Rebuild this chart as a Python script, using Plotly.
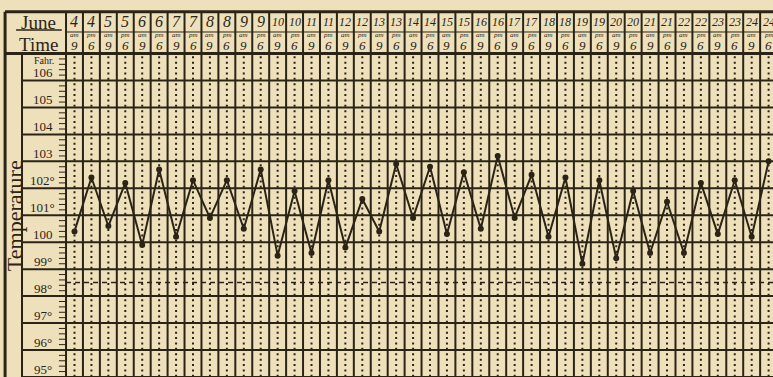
import plotly.graph_objects as go

# chart data
dates = [4, 4, 5, 5, 6, 6, 7, 7, 8, 8, 9, 9, 10, 10, 11, 11, 12, 12, 13, 13, 14,
         14, 15, 15, 16, 16, 17, 17, 18, 18, 19, 19, 20, 20, 21, 21, 22, 22, 23, 23, 24, 24]
periods = ["am", "pm"] * 21
hours = ["9", "6"] * 21
temps = [100.4, 102.4, 100.6, 102.2, 99.9, 102.7, 100.2, 102.3, 100.9, 102.3,
         100.5, 102.7, 99.5, 101.9, 99.6, 102.3, 99.8, 101.6, 100.4, 102.9,
         100.9, 102.8, 100.3, 102.6, 100.5, 103.2, 100.9, 102.5, 100.2, 102.4,
         99.2, 102.3, 99.4, 101.9, 99.6, 101.5, 99.6, 102.2, 100.3, 102.3,
         100.2, 103.0]
degree_ticks = [95, 96, 97, 98, 99, 100, 101, 102, 103, 104, 105, 106]
degree_labels = ["95°", "96°", "97°", "98°", "99°", "100", "101°", "102°",
                 "103", "104", "105", "106"]
normal_temp = 98.5

PAPER = "#eee0bb"
INK = "#2b2416"
FONT = "Liberation Serif"

n = len(temps)
cols = list(range(n))

X_MIN, X_MAX = -4.40, 41.26
Y_MIN, Y_MAX = 94.998, 108.987
TOP = 108.55       # top border of the sheet
GRID_TOP = 107.0   # top of the temperature grid
HEAD_MID = 107.8   # divider between date row and time row
X_OUTER = -4.10    # outer left border
X_INNER = -3.10    # line right of "Temperature"
X_LABEL = -1.92
X_LEFT = -0.5

fig = go.Figure()

shapes = []


def line(x0, y0, x1, y1, width=2, dash=None, color=INK):
    ln = dict(color=color, width=width)
    if dash:
        ln["dash"] = dash
    shapes.append(dict(type="line", xref="x", yref="y", x0=x0, y0=y0,
                       x1=x1, y1=y1, line=ln, layer="below"))


# borders
line(X_OUTER, TOP, X_MAX, TOP, width=3)
line(X_OUTER, GRID_TOP, X_MAX, GRID_TOP, width=3)
line(X_OUTER, TOP, X_OUTER, Y_MIN, width=3)
line(X_INNER, GRID_TOP, X_INNER, Y_MIN, width=2)
line(X_LEFT, HEAD_MID, X_MAX, HEAD_MID, width=1)

# column lines and dotted centre lines
for k in range(n + 1):
    line(k - 0.5, TOP, k - 0.5, Y_MIN, width=2)
for c in cols:
    line(c, GRID_TOP - 0.1, c, Y_MIN, width=2, dash="2px,3.4px")

# degree lines
for d in degree_ticks:
    line(X_INNER, d, X_MAX, d, width=2)

# ruler ticks every 0.2 degree
v = degree_ticks[0]
while v < GRID_TOP - 0.05:
    line(-0.92, v, X_LEFT, v, width=1)
    v = round(v + 0.2, 1)

# normal temperature dashes
line(X_LEFT, normal_temp, X_MAX, normal_temp, width=1.5, dash="5px,4px")

# underline of "June"
line(-3.45, 107.87, -0.75, 107.87, width=1.5)

annotations = []


def text(x, y, s, size, **kw):
    annotations.append(dict(x=x, y=y, xref="x", yref="y", text=s, showarrow=False,
                            font=dict(family=FONT, size=size, color=INK), **kw))


text(X_LABEL - 0.2, 108.17, "June", 19)
text(X_LABEL - 0.2, 107.34, "Time", 19)
text(X_LABEL + 0.1, 106.75, "Fahr.", 10)
for d, lab in zip(degree_ticks, degree_labels):
    text(X_LABEL + 0.05, d + 0.28, lab, 13)
text(-3.58, 101.0, "Temperature", 22, textangle=-90)

for c, d, p, h in zip(cols, dates, periods, hours):
    text(c, 108.18, "<i>%d</i>" % d, 16 if d < 10 else 12)
    text(c, 107.68, "<i>%s</i>" % p, 7)
    text(c, 107.30, "<i>%s</i>" % h, 13)

fig.add_trace(go.Scatter(
    x=cols, y=temps, mode="lines+markers",
    line=dict(color=INK, width=2),
    marker=dict(color=INK, size=6),
    hoverinfo="skip", showlegend=False,
))

fig.update_layout(
    width=773, height=377,
    margin=dict(l=0, r=0, t=0, b=0, pad=0),
    paper_bgcolor=PAPER, plot_bgcolor=PAPER,
    shapes=shapes, annotations=annotations,
    xaxis=dict(range=[X_MIN, X_MAX], visible=False, fixedrange=True),
    yaxis=dict(range=[Y_MIN, Y_MAX], visible=False, fixedrange=True),
)

# drop the page's default body margin so the sheet fills the window
fig.write_html(
    "out.html",
    config={"displayModeBar": False},
    post_script="document.body.style.margin='0';"
                "document.body.style.background='" + PAPER + "';",
)
